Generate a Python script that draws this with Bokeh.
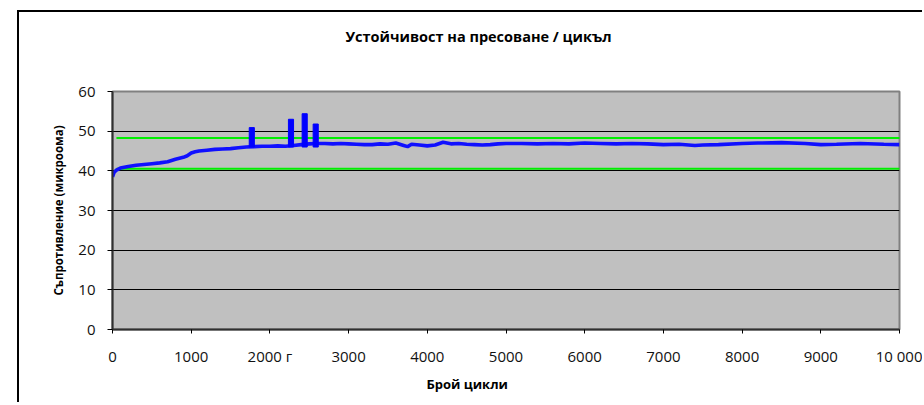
from bokeh.plotting import figure
from bokeh.models import Range1d, FixedTicker, Title
from bokeh.embed import file_html
from bokeh.resources import INLINE

# ---- data ----
cycles = [0, 20, 50, 100, 200, 300, 400, 500, 600, 700, 800, 900, 950, 1000, 1050,
          1100, 1200, 1300, 1400, 1500, 1600, 1700, 1800, 1900, 2000, 2100, 2200,
          2300, 2400, 2500, 2600, 2700, 2800, 2900, 3000, 3100, 3200, 3300, 3400,
          3500, 3600, 3700, 3750, 3800, 3900, 4000, 4100, 4200, 4300, 4400, 4500,
          4600, 4700, 4800, 4900, 5000, 5200, 5400, 5600, 5800, 6000, 6200, 6400,
          6600, 6800, 7000, 7200, 7400, 7500, 7700, 8000, 8200, 8500, 8800, 9000,
          9200, 9500, 9800, 10000]
resistance = [38.5, 39.6, 40.2, 40.7, 41.1, 41.4, 41.6, 41.8, 42.0, 42.3, 42.9, 43.4,
              43.8, 44.5, 44.8, 45.0, 45.2, 45.4, 45.5, 45.6, 45.8, 46.0, 46.1, 46.2,
              46.2, 46.3, 46.2, 46.4, 46.6, 46.8, 46.9, 46.9, 46.8, 46.9, 46.8, 46.7,
              46.6, 46.6, 46.8, 46.7, 47.0, 46.4, 46.1, 46.7, 46.5, 46.3, 46.5, 47.2,
              46.8, 46.9, 46.7, 46.6, 46.5, 46.6, 46.8, 46.9, 46.9, 46.8, 46.9, 46.8,
              47.0, 46.9, 46.8, 46.9, 46.8, 46.6, 46.7, 46.4, 46.5, 46.6, 46.9, 47.0,
              47.1, 46.9, 46.6, 46.7, 46.9, 46.7, 46.6]

spike_cycles = [1770, 2268, 2442, 2582]
spike_tops = [50.9, 53.0, 54.4, 51.8]
spike_base = 46.0

limit_values = [48.3, 40.5]
limit_start = 50
limit_end = 10050

x_ticks = [0, 1000, 2000, 3000, 4000, 5000, 6000, 7000, 8000, 9000, 10000]
x_tick_labels = ["0", "1000", "2000 г", "3000", "4000", "5000", "6000", "7000",
                 "8000", "9000", "10 000"]
y_ticks = [0, 10, 20, 30, 40, 50, 60]

title_text = "Устойчивост на пресоване / цикъл"
x_label_text = "Брой цикли"
y_label_text = "Съпротивление (микроома)"

FONT = "Open Sans"

p = figure(width=905, height=392, x_range=Range1d(0, 10000), y_range=Range1d(0, 60),
           output_backend="svg", toolbar_location=None, title=None,
           min_border_left=93, min_border_right=25, min_border_top=79,
           min_border_bottom=75)
p.styles = {"position": "relative", "left": "17px", "top": "10px",
            "border-left": "2px solid black", "border-top": "2px solid black"}

p.background_fill_color = "#c0c0c0"
p.border_fill_color = "white"
p.outline_line_color = "#808080"
p.outline_line_width = 2

p.xgrid.visible = False
p.ygrid.grid_line_color = "black"
p.ygrid.grid_line_width = 1
p.ygrid.ticker = FixedTicker(ticks=y_ticks)

# axes
p.xaxis.ticker = FixedTicker(ticks=x_ticks)
p.yaxis.ticker = FixedTicker(ticks=y_ticks)
p.xaxis.major_label_overrides = dict(zip(x_ticks, x_tick_labels))
for ax in (p.xaxis, p.yaxis):
    ax.axis_line_color = "#303030"
    ax.axis_line_width = 2
    ax.major_tick_line_color = "black"
    ax.major_tick_in = 0
    ax.minor_tick_line_color = None
    ax.major_label_text_font = FONT
    ax.major_label_text_font_size = "15px"
    ax.major_label_text_color = "#111111"
p.xaxis.major_tick_out = 4
p.yaxis.major_tick_out = 5
p.xaxis.major_label_standoff = 12
p.yaxis.major_label_standoff = 12

p.yaxis.axis_label = y_label_text
p.yaxis.axis_label_text_font = FONT
p.yaxis.axis_label_text_font_style = "bold"
p.yaxis.axis_label_text_font_size = "11.5px"
p.yaxis.axis_label_text_color = "black"
p.yaxis.axis_label_standoff = 9

# limit lines
for v in limit_values:
    p.line([limit_start, limit_end], [v, v], line_color="#00ee00", line_width=2)

# data
p.line(cycles, resistance, line_color="#1010ff", line_width=3.6)
p.vbar(x=spike_cycles, top=spike_tops, bottom=spike_base, width=65,
       fill_color="#0000ff", line_color="#0000ff")

# spacer + title above
spacer = Title(text=" ", text_font=FONT, text_font_size="14px", standoff=24)
p.add_layout(spacer, "above")
main_title = Title(text=title_text, align="left", offset=233, standoff=2,
                   vertical_align="bottom", text_font=FONT,
                   text_font_style="bold", text_font_size="14.5px",
                   text_color="black")
p.add_layout(main_title, "above")

# x axis label as a title below
xlab = Title(text=x_label_text, align="left", offset=314, standoff=12,
             vertical_align="top", text_font=FONT, text_font_style="bold",
             text_font_size="13px", text_color="black")
p.add_layout(xlab, "below")

open("out.html", "w").write(file_html(p, INLINE))
